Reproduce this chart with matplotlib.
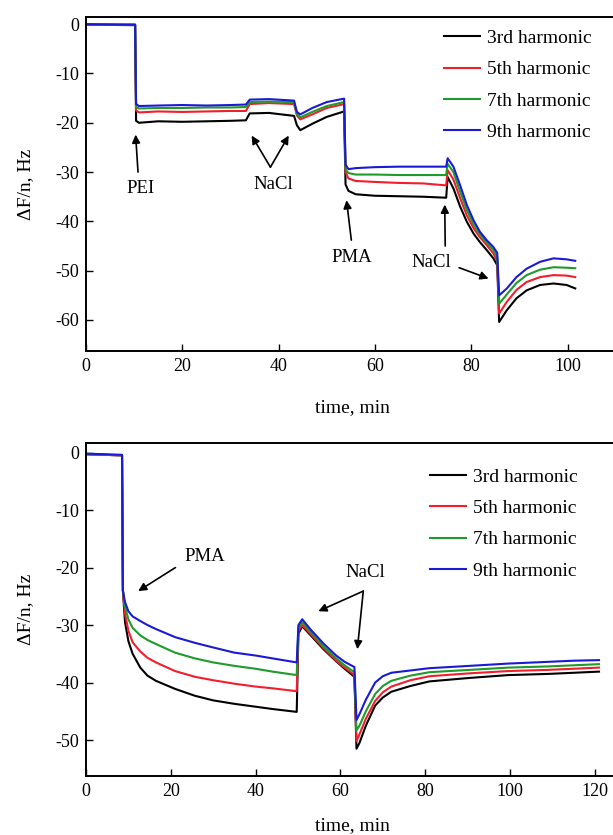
import numpy as np
import matplotlib
matplotlib.use("Agg")
import matplotlib.pyplot as plt

plt.rcParams['font.family'] = ['Liberation Serif', 'DejaVu Serif']
plt.rcParams['axes.unicode_minus'] = False

labels = ['3rd harmonic', '5th harmonic', '7th harmonic', '9th harmonic']
colors = ['#000000', '#f21d2d', '#1e9b2a', '#1a1ad6']

# top panel: PEI / NaCl / PMA / NaCl
t1 = [0, 10.2, 10.4, 11, 15, 20, 25, 30, 33.2, 34.0, 38, 43.2, 43.8, 44.5, 47, 50,
      53.6, 53.9, 54.5, 56, 60, 65, 70, 74.8, 75.1, 76.3, 77.7, 79.1, 80.5, 81.8,
      83.2, 84.6, 85.4, 85.8, 87.4, 89.4, 91.5, 94.3, 97.1, 99.8, 101.6]
top_h3 = [-0.1, -0.2, -19.6, -20.0, -19.7, -19.8, -19.7, -19.6, -19.5, -18.1, -18.0,
          -18.6, -20.5, -21.5, -20.2, -18.8, -17.7, -32.5, -33.8, -34.5, -34.8, -34.9,
          -35.0, -35.2, -31.0, -33.3, -37.0, -40.1, -42.5, -44.2, -45.8, -47.5, -48.9,
          -60.4, -58.0, -55.6, -54.0, -52.9, -52.6, -52.9, -53.6]
top_h5 = [-0.1, -0.1, -17.5, -17.9, -17.7, -17.8, -17.7, -17.6, -17.6, -16.2, -16.0,
          -16.2, -18.5, -19.3, -18.3, -17.0, -16.2, -30.0, -31.3, -31.8, -32.0, -32.2,
          -32.3, -32.7, -29.6, -31.5, -35.3, -38.8, -41.4, -43.2, -44.8, -46.5, -48.0,
          -58.7, -56.3, -53.9, -52.3, -51.3, -50.9, -51.0, -51.3]
top_h7 = [-0.1, -0.1, -16.8, -17.1, -17.0, -17.0, -16.9, -16.9, -16.8, -15.8, -15.7,
          -15.8, -18.2, -18.9, -17.8, -16.6, -15.8, -29.5, -30.2, -30.5, -30.5, -30.6,
          -30.6, -30.6, -28.3, -30.0, -34.0, -37.7, -40.6, -42.6, -44.3, -45.8, -47.2,
          -56.7, -54.8, -52.5, -50.9, -49.8, -49.3, -49.4, -49.5]
top_h9 = [0.0, -0.1, -16.2, -16.6, -16.5, -16.4, -16.5, -16.4, -16.3, -15.3, -15.2,
          -15.5, -17.8, -18.3, -17.0, -15.8, -15.1, -28.5, -29.4, -29.2, -29.0, -28.9,
          -28.9, -28.9, -27.2, -28.9, -32.7, -36.7, -39.8, -42.1, -43.8, -45.2, -46.4,
          -55.0, -53.6, -51.3, -49.6, -48.2, -47.5, -47.7, -48.0]

# bottom panel: PMA / NaCl
t2 = [0, 8.5, 8.7, 9.2, 10, 11, 12.8, 14.5, 16.5, 21, 25.7, 30, 35, 40, 44, 49.7,
      50.1, 51.0, 53, 56, 59, 61, 63.3, 63.8, 64.5, 66, 68.2, 70, 72, 76.5, 81, 90.4,
      99.6, 108.9, 115, 121]
bot_h3 = [-0.3, -0.5, -24.0, -29.5, -32.8, -35.0, -37.4, -38.8, -39.7, -41.1, -42.3,
          -43.1, -43.7, -44.2, -44.6, -45.1, -31.5, -30.2, -31.8, -34.2, -36.3, -37.6,
          -39.0, -51.5, -50.5, -47.5, -44.0, -42.6, -41.6, -40.6, -39.8, -39.2, -38.7,
          -38.5, -38.3, -38.1]
bot_h5 = [-0.3, -0.5, -24.0, -28.0, -31.0, -33.0, -34.6, -35.7, -36.5, -38.0, -39.0,
          -39.6, -40.2, -40.7, -41.0, -41.5, -31.0, -30.0, -31.6, -34.0, -36.2, -37.4,
          -38.7, -50.2, -49.0, -46.3, -43.2, -41.7, -40.7, -39.6, -38.9, -38.4, -38.0,
          -37.8, -37.6, -37.4]
bot_h7 = [-0.3, -0.5, -24.0, -26.8, -29.0, -30.5, -31.8, -32.6, -33.3, -34.8, -35.8,
          -36.5, -37.1, -37.6, -38.1, -38.7, -30.5, -29.5, -31.2, -33.7, -35.8, -37.0,
          -38.2, -48.3, -47.5, -45.0, -42.0, -40.6, -39.7, -38.8, -38.2, -37.8, -37.4,
          -37.2, -37.0, -36.8]
bot_h9 = [-0.2, -0.4, -24.0, -26.0, -27.6, -28.5, -29.3, -30.0, -30.7, -32.1, -33.1,
          -33.9, -34.8, -35.3, -35.8, -36.5, -30.0, -29.0, -30.8, -33.2, -35.3, -36.4,
          -37.3, -46.5, -45.5, -43.0, -40.0, -38.9, -38.3, -37.9, -37.5, -37.1, -36.7,
          -36.4, -36.2, -36.1]

arrow = dict(arrowstyle='-|>', color='k', lw=1.2, mutation_scale=12, shrinkA=0, shrinkB=0)

fig = plt.figure(figsize=(6.13, 8.35), dpi=100)
ax1 = fig.add_axes([0.1403, 0.5796, 0.868, 0.3997])
ax2 = fig.add_axes([0.1403, 0.0703, 0.868, 0.3988])


def style(ax, xlim, ylim, xticks, yticks, xlab_y):
    ax.set_xlim(*xlim)
    ax.set_ylim(*ylim)
    ax.set_xticks(xticks)
    ax.set_yticks(yticks)
    ax.tick_params(direction='in', length=5, width=1, labelsize=13, pad=5)
    for s in ax.spines.values():
        s.set_linewidth(1.4)
    ax.set_xlabel('time, min', fontsize=14)
    ax.set_ylabel('ΔF/n, Hz', fontsize=14)
    ax.xaxis.set_label_coords(0.5, xlab_y)
    ax.yaxis.set_label_coords(-0.098, 0.5)


for ys, c, lab in zip([top_h3, top_h5, top_h7, top_h9], colors, labels):
    ax1.plot(t1, ys, color=c, lw=1.5, label=lab)
for ys, c, lab in zip([bot_h3, bot_h5, bot_h7, bot_h9], colors, labels):
    ax2.plot(t2, ys, color=c, lw=1.5, label=lab)

style(ax1, (0, 110.5), (-66.3, 1.4), range(0, 101, 20), range(0, -61, -10), -0.144)
style(ax2, (0, 125.5), (-56.3, 1.6), range(0, 121, 20), range(0, -51, -10), -0.122)

leg_kw = dict(loc='upper left', frameon=False, fontsize=14, handlelength=1.85,
              handletextpad=0.4, labelspacing=0.7, borderpad=0, borderaxespad=0)
ax1.legend(bbox_to_anchor=(0.672, 0.963), **leg_kw)
ax2.legend(bbox_to_anchor=(0.646, 0.925), **leg_kw)

# top annotations
ax1.text(11.4, -33.4, 'PEI', fontsize=13.5, ha='center', va='center')
ax1.annotate('', xy=(10.3, -22.4), xytext=(10.8, -30.0), arrowprops=arrow)
ax1.text(38.9, -32.6, 'NaCl', fontsize=13.5, ha='center', va='center')
ax1.annotate('', xy=(34.4, -22.6), xytext=(38.3, -29.0), arrowprops=arrow)
ax1.annotate('', xy=(42.1, -22.6), xytext=(38.3, -29.0), arrowprops=arrow)
ax1.text(55.1, -47.3, 'PMA', fontsize=13.5, ha='center', va='center')
ax1.annotate('', xy=(54.1, -35.7), xytext=(55.1, -43.8), arrowprops=arrow)
ax1.text(71.8, -48.3, 'NaCl', fontsize=13.5, ha='center', va='center')
ax1.annotate('', xy=(74.5, -36.6), xytext=(74.6, -45.0), arrowprops=arrow)
ax1.annotate('', xy=(83.6, -51.6), xytext=(77.5, -49.4), arrowprops=arrow)

# bottom annotations
ax2.text(28.0, -18.0, 'PMA', fontsize=13.5, ha='center', va='center')
ax2.annotate('', xy=(12.3, -24.1), xytext=(21.1, -20.0), arrowprops=arrow)
ax2.text(65.9, -20.9, 'NaCl', fontsize=13.5, ha='center', va='center')
ax2.annotate('', xy=(54.8, -27.6), xytext=(65.4, -24.1), arrowprops=arrow)
ax2.annotate('', xy=(64.0, -34.2), xytext=(65.4, -24.1), arrowprops=arrow)

fig.savefig('out.png', dpi=100)
